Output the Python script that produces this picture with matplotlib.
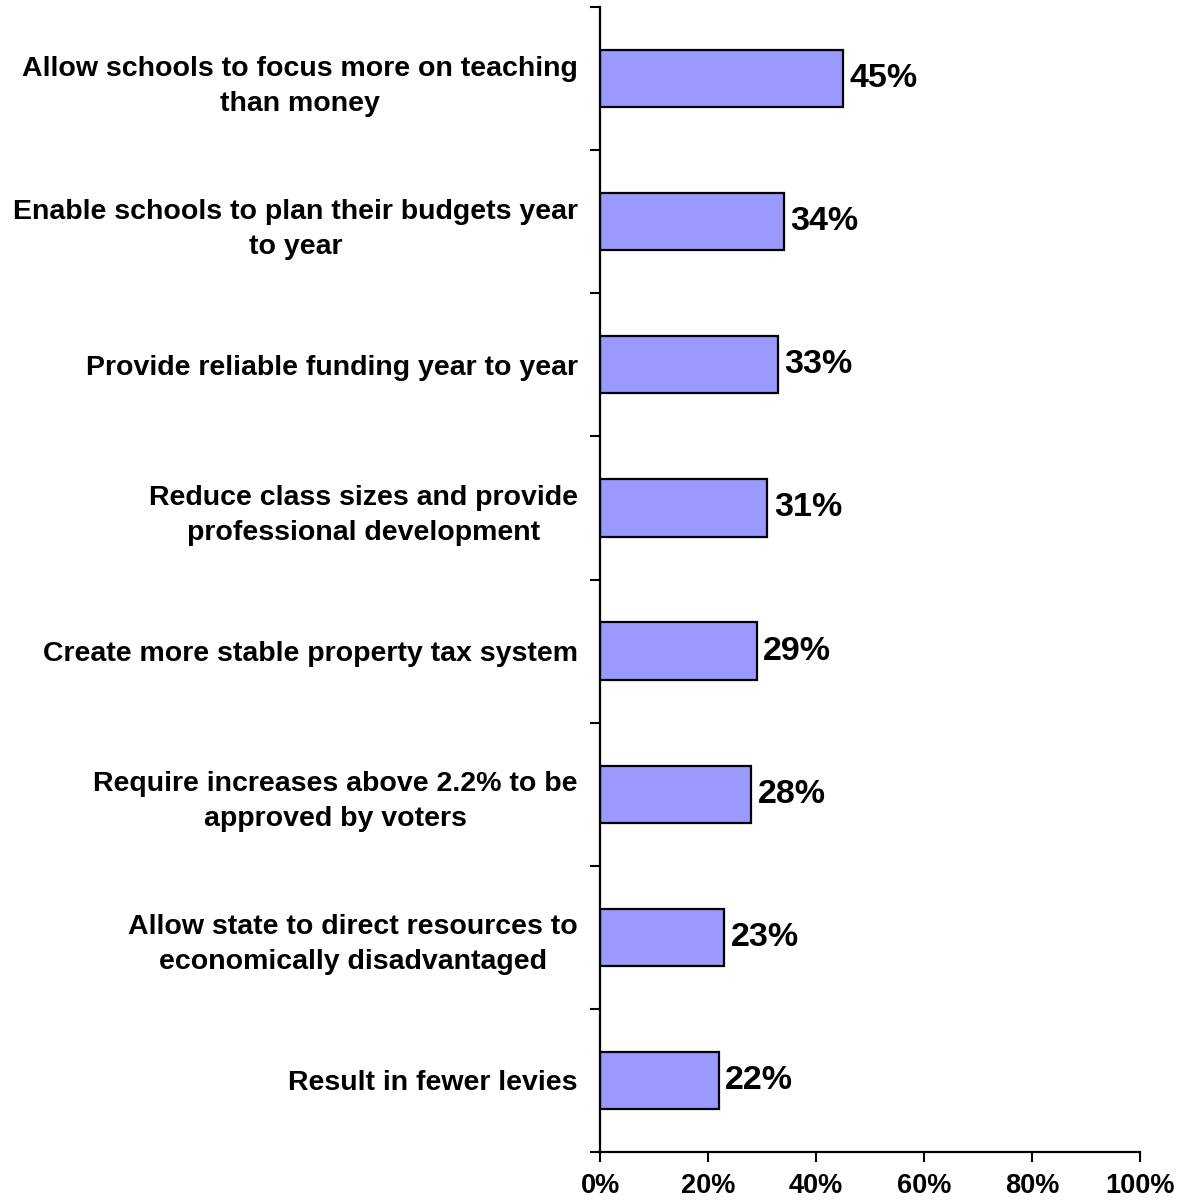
import matplotlib.pyplot as plt
import numpy as np

plt.rcParams['font.family'] = ['Liberation Sans', 'DejaVu Sans']

# Survey answers, top to bottom
categories = [
    "Allow schools to focus more on teaching\nthan money",
    "Enable schools to plan their budgets year\nto year",
    "Provide reliable funding year to year",
    "Reduce class sizes and provide\nprofessional development",
    "Create more stable property tax system",
    "Require increases above 2.2% to be\napproved by voters",
    "Allow state to direct resources to\neconomically disadvantaged",
    "Result in fewer levies",
]
values = [45, 34, 33, 31, 29, 28, 23, 22]
x_ticks = [0, 20, 40, 60, 80, 100]

W, H = 1178, 1203
fig = plt.figure(figsize=(W / 100, H / 100), dpi=100)
ax = fig.add_axes([600 / W, (H - 1152) / H, 540 / W, (1152 - 7) / H])

n = len(categories)
ypos = np.arange(n)[::-1]
ax.barh(ypos, values, height=0.4, color="#9999ff", edgecolor="black", linewidth=1.6)

for y, v in zip(ypos, values):
    ax.text(v + 1.2, y, f"{v}%", va="center", ha="left",
            fontsize=24.5, fontweight="bold")

ax.set_xlim(0, 100)
ax.set_ylim(-0.5, n - 0.5)

ax.set_xticks(x_ticks)
ax.set_xticklabels([f"{t}%" for t in x_ticks], fontsize=19.5, fontweight="bold")
ax.tick_params(axis="x", direction="out", length=7, width=1.5, pad=8)

# boundary ticks on the y axis, labels at the bar centres
ax.set_yticks(np.arange(n + 1) - 0.5)
ax.set_yticklabels([])
ax.tick_params(axis="y", which="major", direction="out", length=7, width=1.5)
ax.set_yticks(ypos, minor=True)
ax.set_yticklabels(categories, minor=True, fontsize=20.5, fontweight="bold",
                   multialignment="center", linespacing=1.45)
ax.tick_params(axis="y", which="minor", length=0, pad=16)

for side in ["top", "right"]:
    ax.spines[side].set_visible(False)
for side in ["left", "bottom"]:
    ax.spines[side].set_linewidth(1.6)

fig.savefig("out.png", dpi=100)
